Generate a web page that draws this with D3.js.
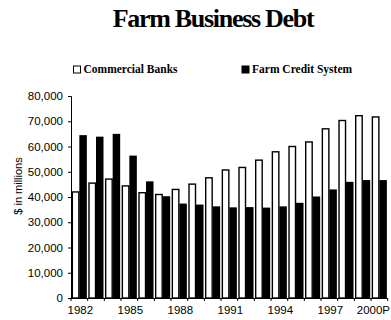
<!DOCTYPE html>
<html>
	<head>
		<meta charset="utf-8">
		<title>Farm Business Debt</title>
		<style>
			body { margin:0; background:#fff; }
		</style>
	</head>
	<body>
		<script src="https://cdn.jsdelivr.net/npm/d3@7/dist/d3.min.js" charset="utf-8"></script>
		<script>
			// data ($ in millions)
			var years = ["1982","1983","1984","1985","1986","1987","1988","1989","1990","1991",
				"1992","1993","1994","1995","1996","1997","1998","1999","2000P"];
			var commercialBanks = [42000,45500,47100,44400,41700,41000,43000,45100,47600,50700,
				51700,54600,57900,60000,61800,67000,70300,72200,71700];
			var farmCredit = [64500,63900,65000,56400,46200,40300,37400,37000,36300,35900,
				36000,35800,36300,37700,40200,43000,46000,46700,46700];
			var yTicks = [0,10000,20000,30000,40000,50000,60000,70000,80000];
			var xLabels = ["1982","1985","1988","1991","1994","1997","2000P"];
			var seriesNames = ["Commercial Banks","Farm Credit System"];

			var W = 391, H = 320;
			var margin = {left:71, top:96, bottom:298, right:387.7};

			var svg = d3.select("body")
						.append("svg")
						.attr("width",W)
						.attr("height",H)

			//比例尺
			var xScale = d3.scaleBand()
							.domain(years)
							.range([margin.left, margin.right])
							.paddingInner(0.1)
							.paddingOuter(0.05)

			var subScale = d3.scaleBand()
							.domain([0,1])
							.range([0, xScale.bandwidth()])

			var yScale = d3.scaleLinear()
							.domain([0,80000])
							.range([margin.bottom, margin.top])

			//title
			svg.append("text")
				.attr("x",213)
				.attr("y",27)
				.attr("text-anchor","middle")
				.attr("font-family","Liberation Serif, serif")
				.attr("font-weight","bold")
				.attr("font-size",26)
				.attr("letter-spacing",-1.3)
				.text("Farm Business Debt")

			//legend
			var legend = svg.selectAll(".legend")
							.data(seriesNames)
							.enter()
							.append("g")
							.attr("class","legend")
							.attr("transform",function(d,i){
								return "translate("+(i==0?73.5:242)+",66)";
							})
			legend.append("rect")
					.attr("width",7)
					.attr("height",7)
					.attr("fill",function(d,i){ return i==0?"#fff":"#000"; })
					.attr("stroke","#000")
					.attr("stroke-width",1)
			legend.append("text")
					.attr("x",10)
					.attr("y",7)
					.attr("font-family","Liberation Serif, serif")
					.attr("font-weight","bold")
					.attr("font-size",11.5)
					.text(function(d){ return d; })

			//bars
			var groups = svg.selectAll(".year")
							.data(years)
							.enter()
							.append("g")
							.attr("class","year")
							.attr("transform",function(d){ return "translate("+xScale(d)+",0)"; })

			groups.append("rect")
					.attr("x",subScale(0)+0.5)
					.attr("width",subScale.bandwidth()-1)
					.attr("y",function(d,i){ return yScale(commercialBanks[i]); })
					.attr("height",function(d,i){ return yScale(0)-yScale(commercialBanks[i]); })
					.attr("fill","#fff")
					.attr("stroke","#000")
					.attr("stroke-width",1.4)

			groups.append("rect")
					.attr("x",subScale(1))
					.attr("width",subScale.bandwidth())
					.attr("y",function(d,i){ return yScale(farmCredit[i]); })
					.attr("height",function(d,i){ return yScale(0)-yScale(farmCredit[i]); })
					.attr("fill","#000")

			//坐标轴
			var yAxis = d3.axisLeft()
							.scale(yScale)
							.tickValues(yTicks)
							.tickFormat(d3.format(","))
							.tickSize(3)
							.tickPadding(5)

			var gy = svg.append("g")
				.attr("transform","translate("+margin.left+",0)")
				.call(yAxis)
			gy.select(".domain").attr("stroke","#000")
			gy.selectAll("text")
				.attr("font-family","Liberation Sans, Arial, sans-serif")
				.attr("font-size",11.5)
				.attr("fill","#000")

			// x axis: baseline, ticks at the category boundaries, labels every 3 years
			var step = xScale.step();
			var boundaries = years.map(function(d,i){ return margin.left + i*step; });
			boundaries.push(margin.left + years.length*step);

			svg.append("line")
				.attr("x1",margin.left)
				.attr("x2",margin.right)
				.attr("y1",yScale(0)+0.5)
				.attr("y2",yScale(0)+0.5)
				.attr("stroke","#000")

			svg.selectAll(".xtick")
				.data(boundaries)
				.enter()
				.append("line")
				.attr("class","xtick")
				.attr("x1",function(d){ return d; })
				.attr("x2",function(d){ return d; })
				.attr("y1",yScale(0))
				.attr("y2",yScale(0)+3)
				.attr("stroke","#000")

			svg.selectAll(".xlabel")
				.data(xLabels)
				.enter()
				.append("text")
				.attr("class","xlabel")
				.attr("x",function(d,i){
					// the last label would run off the right edge, so it ends at the edge instead
					return i==xLabels.length-1 ? W-1 : xScale(d)+xScale.bandwidth()/2+1;
				})
				.attr("y",314)
				.attr("text-anchor",function(d,i){ return i==xLabels.length-1?"end":"middle"; })
				.attr("font-family","Liberation Sans, Arial, sans-serif")
				.attr("font-size",11.5)
				.text(function(d){ return d; })

			//y title
			svg.append("text")
				.attr("transform","translate(22,186) rotate(-90)")
				.attr("text-anchor","middle")
				.attr("font-family","Liberation Sans, Arial, sans-serif")
				.attr("font-size",11)
				.text("$ in millions")

		</script>
	</body>
</html>
